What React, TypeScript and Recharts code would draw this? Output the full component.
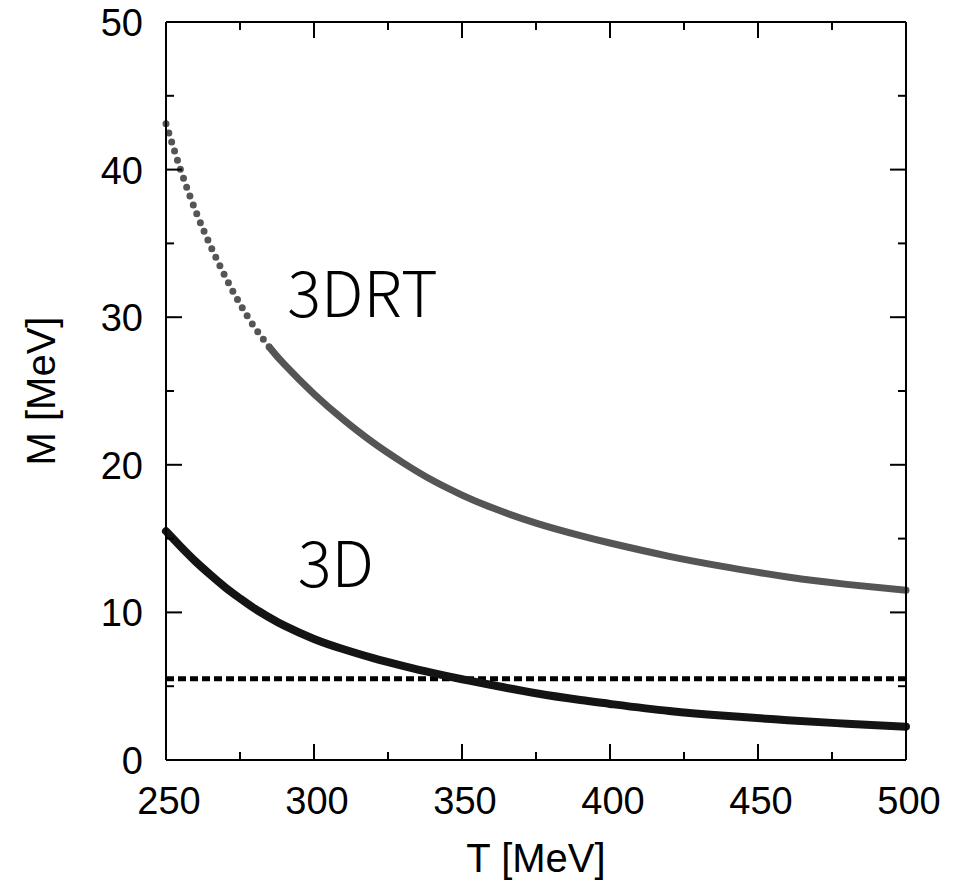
import { LineChart, Line, XAxis, YAxis, ReferenceLine, ReferenceDot } from 'recharts';

// temperature grid T [MeV]
const temps = [250, 255, 260, 265, 270, 275, 280, 285, 290, 300, 310, 320, 330, 340, 350, 360, 375, 390, 400, 420, 440, 460, 480, 500];
// 3DRT curve, M [MeV]
const massRT = [43.1, 39.95, 37.2, 34.85, 32.75, 30.9, 29.3, 27.95, 26.8, 24.8, 23.05, 21.5, 20.15, 18.95, 17.95, 17.1, 16.05, 15.2, 14.7, 13.8, 13.05, 12.4, 11.9, 11.5];
// 3D curve, M [MeV]
const mass3D = [15.5, 14.45, 13.45, 12.55, 11.7, 10.95, 10.25, 9.65, 9.1, 8.2, 7.5, 6.9, 6.38, 5.9, 5.47, 5.08, 4.52, 4.06, 3.8, 3.32, 2.98, 2.7, 2.46, 2.26];
// the 3DRT points are drawn as separate dots up to this T
const rtDotsUntil = 285;
const criticalMass = 5.5;

const xTicks = [250, 275, 300, 325, 350, 375, 400, 425, 450, 475, 500];
const yTicks = [0, 5, 10, 15, 20, 25, 30, 35, 40, 45, 50];

const data = temps.map((t, i) => ({
  t,
  rtDots: t <= rtDotsUntil ? massRT[i] : null,
  rt: t >= rtDotsUntil ? massRT[i] : null,
  d3: mass3D[i],
}));

const AXIS_FONT = '"Liberation Sans", Arial, Helvetica, sans-serif';
const NOTE_FONT = '"Noto Sans CJK JP", "Noto Sans", sans-serif';

function BottomTick({ x, y, payload }: any) {
  const major = payload.value % 50 === 0;
  return (
    <g>
      <line x1={x} x2={x} y1={y} y2={y - (major ? 16 : 8)} stroke="#000" strokeWidth={2} />
      {major && (
        <text x={x + 3} y={y + 54} textAnchor="middle" fontSize={38} fontFamily={AXIS_FONT} fill="#000">
          {payload.value}
        </text>
      )}
    </g>
  );
}

function TopTick({ x, y, payload }: any) {
  const major = payload.value % 50 === 0;
  return <line x1={x} x2={x} y1={y} y2={y + (major ? 16 : 8)} stroke="#000" strokeWidth={2} />;
}

function LeftTick({ x, y, payload }: any) {
  const major = payload.value % 10 === 0;
  return (
    <g>
      <line x1={x} x2={x + (major ? 16 : 8)} y1={y} y2={y} stroke="#000" strokeWidth={2} />
      {major && (
        <text x={x - 23} y={y + 14} textAnchor="end" fontSize={38} fontFamily={AXIS_FONT} fill="#000">
          {payload.value}
        </text>
      )}
    </g>
  );
}

function RightTick({ x, y, payload }: any) {
  const major = payload.value % 10 === 0;
  return <line x1={x} x2={x - (major ? 16 : 8)} y1={y} y2={y} stroke="#000" strokeWidth={2} />;
}

const note = (label: string) => (p: any) => (
  <text x={p.cx} y={p.cy} fontSize={63} fontWeight={300} fontFamily={NOTE_FONT} fill="#000">
    {label}
  </text>
);

export default function App() {
  return (
    <div style={{ position: 'absolute', left: 0, top: 0, width: 958, height: 886, background: '#fff' }}>
      <LineChart width={958} height={886} data={data} margin={{ top: 21, right: 51, left: 0, bottom: 0 }}>
        <XAxis
          dataKey="t"
          type="number"
          domain={[250, 500]}
          ticks={xTicks}
          interval={0}
          height={126}
          tickSize={0}
          tickMargin={0}
          tickLine={false}
          axisLine={{ stroke: '#000', strokeWidth: 2 }}
          tick={(p: any) => <BottomTick {...p} />}
          label={{
            content: () => (
              <text x={536} y={872} textAnchor="middle" fontSize={40} fontFamily={AXIS_FONT} fill="#000">
                T [MeV]
              </text>
            ),
          }}
        />
        <XAxis
          xAxisId="top"
          orientation="top"
          dataKey="t"
          type="number"
          domain={[250, 500]}
          allowDataOverflow
          ticks={xTicks}
          interval={0}
          height={1}
          tickSize={0}
          tickMargin={0}
          tickLine={false}
          axisLine={{ stroke: '#000', strokeWidth: 2 }}
          tick={(p: any) => <TopTick {...p} />}
        />
        <YAxis
          type="number"
          domain={[0, 50]}
          ticks={yTicks}
          interval={0}
          width={166}
          tickSize={0}
          tickMargin={0}
          tickLine={false}
          axisLine={{ stroke: '#000', strokeWidth: 2 }}
          tick={(p: any) => <LeftTick {...p} />}
          label={{
            content: () => (
              <text
                x={55}
                y={391}
                textAnchor="middle"
                fontSize={40}
                fontFamily={AXIS_FONT}
                fill="#000"
                transform="rotate(-90, 55, 391)"
              >
                M [MeV]
              </text>
            ),
          }}
        />
        <YAxis
          yAxisId="right"
          orientation="right"
          type="number"
          domain={[0, 50]}
          allowDataOverflow
          ticks={yTicks}
          interval={0}
          width={1}
          tickSize={0}
          tickMargin={0}
          tickLine={false}
          axisLine={{ stroke: '#000', strokeWidth: 2 }}
          tick={(p: any) => <RightTick {...p} />}
        />
        {/* invisible series so the mirrored top/right axes get drawn */}
        <Line
          xAxisId="top"
          yAxisId="right"
          dataKey="d3"
          stroke="none"
          dot={false}
          activeDot={false}
          legendType="none"
          isAnimationActive={false}
        />
        <ReferenceLine y={criticalMass} stroke="#000" strokeWidth={5} strokeDasharray="8 4" />
        <Line
          dataKey="d3"
          type="natural"
          stroke="#141414"
          strokeWidth={8}
          strokeLinecap="round"
          dot={false}
          isAnimationActive={false}
        />
        <Line
          dataKey="rt"
          type="natural"
          stroke="#555"
          strokeWidth={7}
          strokeLinecap="round"
          dot={false}
          isAnimationActive={false}
        />
        <Line
          dataKey="rtDots"
          type="natural"
          stroke="#555"
          strokeWidth={7}
          strokeLinecap="round"
          strokeDasharray="0 9.5"
          dot={false}
          isAnimationActive={false}
        />
        <ReferenceDot x={291} y={30} r={0} shape={note('3DRT')} />
        <ReferenceDot x={294.5} y={11.7} r={0} shape={note('3D')} />
      </LineChart>
    </div>
  );
}
